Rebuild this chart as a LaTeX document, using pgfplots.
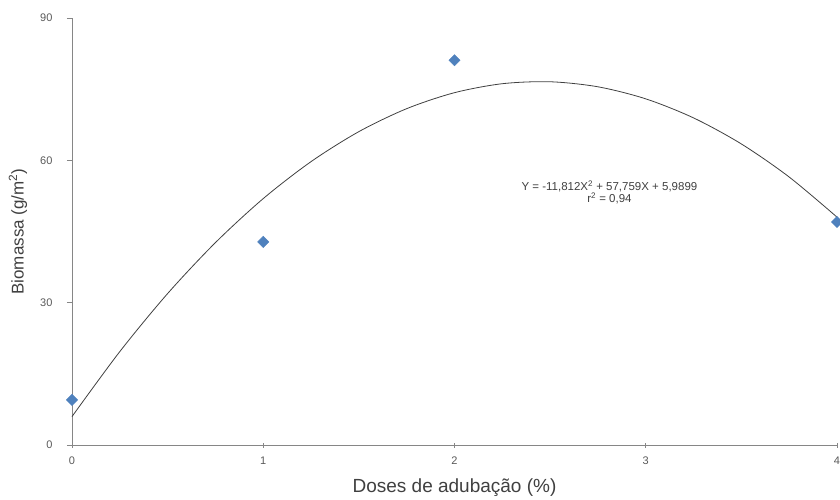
\documentclass[border=0pt]{standalone}
\usepackage{fontspec}
\setmainfont{Liberation Sans}
\usepackage{pgfplots}
\pgfplotsset{compat=1.18}
\usetikzlibrary{calc}
\definecolor{axisgray}{HTML}{868686}
\definecolor{ticktext}{HTML}{595959}
\definecolor{ptblue}{HTML}{4F81BD}
\begin{document}
\begin{tikzpicture}
\begin{axis}[
  name=ax,
  at={(0,0)}, anchor=south west,
  scale only axis,
  width=765pt, height=427pt,
  xmin=0, xmax=4, ymin=0, ymax=90,
  xtick={0,1,2,3,4}, ytick={0,30,60,90},
  axis lines*=left,
  axis line style={axisgray, line width=0.8pt, -},
  tick style={axisgray, line width=0.8pt},
  major tick length=5pt,
  ytick align=outside,
  xtick align=center,
  tick label style={font=\fontsize{11}{12}\selectfont, text=ticktext},
  /pgf/number format/assume math mode=true,
  xticklabel style={yshift=-6pt},
  yticklabel style={xshift=-11pt},
  xlabel={Doses de adubação (\%)},
  ylabel={Biomassa (g/m\textsuperscript{2})},
  label style={text=black!75},
  xlabel style={font=\fontsize{19}{21}\selectfont, at={(axis description cs:0.5,-0.10)}, anchor=center},
  ylabel style={font=\fontsize{17}{19}\selectfont, at={(axis description cs:-0.0706,0.5)}, anchor=center},
  clip=false,
]
\addplot[black!75, line width=0.8pt, smooth] coordinates {
  (0,5.99) (0.25,19.69) (0.5,31.92) (0.75,42.66) (1,51.94) (1.25,59.73)
  (1.5,66.05) (1.75,70.89) (2,74.26) (2.25,76.15) (2.5,76.56) (2.75,75.50)
  (3,72.96) (3.25,68.94) (3.5,63.45) (3.75,56.48) (4,48.03)
};
\addplot[only marks, mark=square*, mark size=4pt, mark options={rotate=45, fill=ptblue, draw=ptblue}] coordinates {
  (0,9.5) (1,42.8) (2,81.1) (4,47.0)
};
\node[font=\fontsize{11.5}{13}\selectfont, text=black!75, align=center] at (axis cs:2.81,53.3)
  {Y = -11,812X\textsuperscript{2} + 57,759X + 5,9899\\[-1pt] r\textsuperscript{2} = 0,94};
\end{axis}
\pgfresetboundingbox
\path ($(ax.south west)+(-72pt,-55pt)$) rectangle ($(ax.north east)+(3pt,18pt)$);
\end{tikzpicture}
\end{document}
